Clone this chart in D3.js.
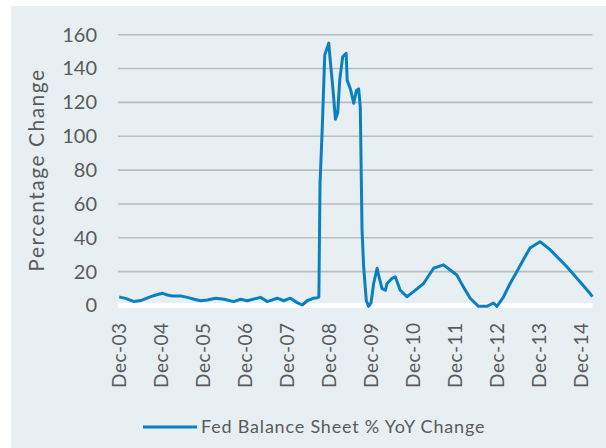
<!DOCTYPE html>
<html>
<head>
<meta charset="utf-8">
<script src="https://cdn.jsdelivr.net/npm/d3@7"></script>
<style>
  body { margin: 0; background: #fff; }
  text { font-family: Lato, "Open Sans", sans-serif; fill: #5a5a5a; }
</style>
</head>
<body>
<svg id="chart" width="606" height="448"></svg>
<script>
// Fed balance sheet, % change year over year
const dates = [
  '2003-12-03', '2003-12-17', '2004-01-28', '2004-04-10', '2004-06-07', '2004-09-02',
  '2004-10-16', '2004-12-13', '2005-01-25', '2005-03-09', '2005-05-20', '2005-07-17',
  '2005-09-13', '2005-11-10', '2006-01-07', '2006-03-20', '2006-05-31', '2006-08-25',
  '2006-10-22', '2006-12-19', '2007-04-14', '2007-06-11', '2007-09-06', '2007-11-02',
  '2007-12-30', '2008-02-26', '2008-04-10', '2008-05-23', '2008-07-19', '2008-08-18',
  '2008-09-02', '2008-09-12', '2008-10-01', '2008-10-23', '2008-11-27', '2008-12-12',
  '2009-01-01', '2009-01-24', '2009-02-13', '2009-03-02', '2009-03-28', '2009-04-27',
  '2009-05-06', '2009-06-03', '2009-07-02', '2009-07-25', '2009-08-14', '2009-08-28',
  '2009-09-12', '2009-09-26', '2009-10-19', '2009-11-08', '2009-11-29', '2009-12-22',
  '2010-01-21', '2010-02-10', '2010-03-05', '2010-04-03', '2010-04-17', '2010-05-31',
  '2010-06-28', '2010-08-10', '2010-10-07', '2010-12-04', '2011-03-01', '2011-05-27',
  '2011-08-21', '2011-10-18', '2011-12-15', '2012-02-10', '2012-04-09', '2012-06-20',
  '2012-09-01', '2012-10-28', '2012-11-27', '2013-01-23', '2013-03-22', '2013-05-19',
  '2013-07-15', '2013-09-11', '2013-12-07', '2014-03-04', '2014-07-26', '2014-11-19',
  '2015-02-13', '2015-03-08'
];
const yoyChange = [
  5.0, 4.8, 4.2, 2.3, 2.9, 5.2,
  6.2, 7.2, 6.2, 5.6, 5.6, 4.8,
  3.7, 2.8, 3.2, 4.3, 3.7, 2.3,
  3.7, 2.8, 4.8, 2.3, 4.3, 2.8,
  4.3, 1.7, 0.3, 2.8, 4.3, 4.6,
  5.0, 72, 104, 148, 155, 143,
  129, 110, 114, 133, 147, 149,
  133, 128, 119.5, 127, 128, 117,
  45, 23, 3, -0.5, 1.5, 13,
  22, 16, 10, 9, 13, 16,
  17, 9, 5.2, 8.2, 13, 22,
  24, 21, 18, 11, 4.3, -0.5,
  -0.5, 1.5, -0.5, 5, 13, 20,
  27, 34, 37.7, 33, 23, 14,
  7.2, 5.2
];

const yTicks = [0, 20, 40, 60, 80, 100, 120, 140, 160];
const tickYears = [2003, 2004, 2005, 2006, 2007, 2008, 2009, 2010, 2011, 2012, 2013, 2014];
const seriesName = 'Fed Balance Sheet % YoY Change';

const parse = d3.timeParse('%Y-%m-%d');
const data = dates.map((d, i) => ({ date: parse(d), value: yoyChange[i] }));

const svg = d3.select('#chart');

// chart area background (white strip kept top and left)
svg.append('rect')
  .attr('x', 11).attr('y', 6)
  .attr('width', 595).attr('height', 442)
  .attr('fill', '#e7eff2');

const x = d3.scaleTime()
  .domain([new Date(2003, 11, 1), parse('2015-03-08')])
  .range([119, 592.5]);

const y = d3.scaleLinear()
  .domain([0, 160])
  .range([305.5, 34.7]);

// gridlines
svg.append('g')
  .selectAll('line')
  .data(yTicks.filter(t => t > 0))
  .join('line')
  .attr('x1', 118).attr('x2', 592.5)
  .attr('y1', d => y(d)).attr('y2', d => y(d))
  .attr('stroke', '#bdbdbd')
  .attr('stroke-width', 1.6);

// horizontal axis line (white)
svg.append('line')
  .attr('x1', 118).attr('x2', 592.5)
  .attr('y1', y(0)).attr('y2', y(0))
  .attr('stroke', '#fff')
  .attr('stroke-width', 5);

// y axis labels
const yAxis = svg.append('g')
  .attr('transform', 'translate(97,0)')
  .call(d3.axisLeft(y).tickValues(yTicks).tickSize(0).tickPadding(0));
yAxis.select('.domain').remove();
yAxis.selectAll('text')
  .attr('font-size', 20)
  .attr('fill', '#5a5a5a')
  .style('font-family', 'Lato, sans-serif');

// x axis labels, rotated
const tickDates = tickYears.map(yr => new Date(yr, 11, 1));
const xAxis = svg.append('g')
  .attr('transform', `translate(0,${y(0) + 17})`)
  .call(d3.axisBottom(x).tickValues(tickDates).tickFormat(d3.timeFormat('%b-%y')).tickSize(0).tickPadding(0));
xAxis.select('.domain').remove();
xAxis.selectAll('text')
  .attr('font-size', 19)
  .attr('fill', '#5a5a5a')
  .style('font-family', 'Lato, sans-serif')
  .style('letter-spacing', '0.5px')
  .attr('text-anchor', 'end')
  .attr('transform', 'rotate(-90)')
  .attr('x', 0)
  .attr('y', 0)
  .attr('dy', '0.35em');

// y axis title
svg.append('text')
  .attr('transform', 'translate(44,170) rotate(-90)')
  .attr('text-anchor', 'middle')
  .attr('font-size', 21)
  .style('letter-spacing', '1.5px')
  .text('Percentage Change');

// series line
const line = d3.line()
  .x(d => x(d.date))
  .y(d => y(d.value));

svg.append('path')
  .datum(data)
  .attr('fill', 'none')
  .attr('stroke', '#0b80c1')
  .attr('stroke-width', 3)
  .attr('stroke-linejoin', 'round')
  .attr('d', line);

// legend
const legend = svg.append('g').attr('transform', 'translate(143,427)');
legend.append('line')
  .attr('x1', 0).attr('x2', 54)
  .attr('stroke', '#0b80c1')
  .attr('stroke-width', 3);
legend.append('text')
  .attr('x', 58)
  .attr('dy', '0.35em')
  .attr('font-size', 18)
  .style('letter-spacing', '0.8px')
  .text(seriesName);
</script>
</body>
</html>
